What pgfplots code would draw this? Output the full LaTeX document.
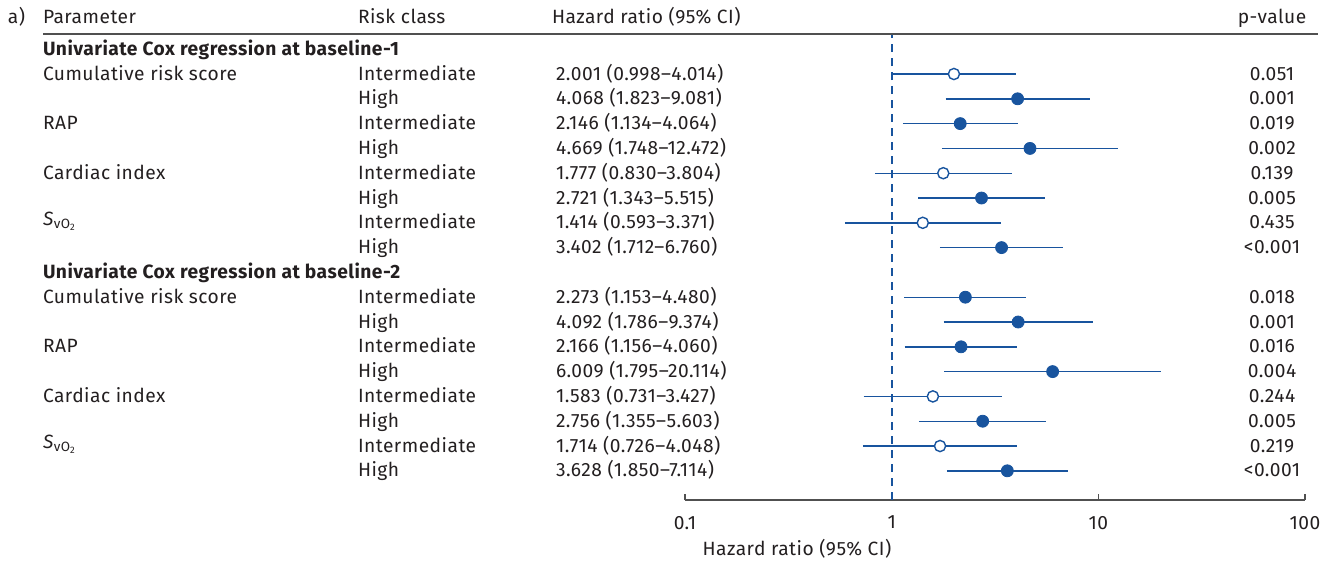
\documentclass[border=0pt]{standalone}
\usepackage{pgfplots}
\pgfplotsset{compat=1.18}
\usepackage{pgfplotstable}
\usepackage{fontspec}
\setmainfont{Fira Sans}[LetterSpace=2.5]
\definecolor{fblue}{RGB}{24,84,158}
\definecolor{txt}{RGB}{35,31,32}
\definecolor{axgray}{RGB}{80,80,80}

% CI segments: x (lo/hi), y = -row pixel
\pgfplotstableread{
x y
0.998 -74.0
4.014 -74.0
nan nan
1.823 -98.8
9.081 -98.8
nan nan
1.134 -123.6
4.064 -123.6
nan nan
1.748 -148.4
12.472 -148.4
nan nan
0.830 -173.2
3.804 -173.2
nan nan
1.343 -198.0
5.515 -198.0
nan nan
0.593 -222.8
3.371 -222.8
nan nan
1.712 -247.6
6.760 -247.6
nan nan
1.153 -297.2
4.480 -297.2
nan nan
1.786 -322.0
9.374 -322.0
nan nan
1.156 -346.8
4.060 -346.8
nan nan
1.795 -371.6
20.114 -371.6
nan nan
0.731 -396.4
3.427 -396.4
nan nan
1.355 -421.2
5.603 -421.2
nan nan
0.726 -446.0
4.048 -446.0
nan nan
1.850 -470.8
7.114 -470.8
}\citable

\pgfplotstableread{
x y
4.068 -98.8
2.146 -123.6
4.669 -148.4
2.721 -198.0
3.402 -247.6
2.273 -297.2
4.092 -322.0
2.166 -346.8
6.009 -371.6
2.756 -421.2
3.628 -470.8
}\filledpts

\pgfplotstableread{
x y
2.001 -74.0
1.777 -173.2
1.414 -222.8
1.583 -396.4
1.714 -446.0
}\openpts

\begin{document}
\begin{tikzpicture}[x=0.5pt,y=-0.5pt,font=\fontsize{9.6}{11.5}\selectfont,color=txt]
\path (0,0) rectangle (1336,564);
\begin{axis}[
  at={(342.5pt,-250pt)}, anchor=south west,
  scale only axis, width=310pt, height=232.5pt,
  xmode=log, xmin=0.1, xmax=100, ymin=-500, ymax=-35,
  axis x line*=bottom, axis y line=none,
  x axis line style={axgray, line width=0.8pt},
  xtick={0.1,1,10,100}, xticklabels={0.1,1,10,100},
  xminorticks=false, xtick align=inside,
  major tick length=3pt,
  tick style={axgray, line width=0.8pt},
  xticklabel style={font=\fontsize{9.6}{11.5}\selectfont, text=txt, yshift=-4.5pt},
  /pgf/number format/assume math mode=true,
  unbounded coords=jump, clip=false,
]
\addplot[draw=fblue, line width=1pt, dash pattern=on 4pt off 3pt] coordinates {(1,-500) (1,-35)};
\addplot[draw=fblue, line width=0.7pt, no marks] table[x=x,y=y] {\citable};
\addplot[only marks, mark=*, mark size=3pt, fblue, mark options={fill=fblue, draw=fblue}] table[x=x,y=y] {\filledpts};
\addplot[only marks, mark=*, mark size=2.8pt, fblue, mark options={fill=white, draw=fblue, line width=0.7pt}] table[x=x,y=y] {\openpts};
\end{axis}

\tikzset{every node/.style={inner sep=0pt, outer sep=0pt, text=txt}}
% header
\node[anchor=base west] at (8,23) {a)};
\node[anchor=base west] at (43,23) {Parameter};
\node[anchor=base west] at (358,23) {Risk class};
\node[anchor=base west] at (552,23) {Hazard ratio (95\% CI)};
\node[anchor=base] at (1272,23) {p-value};
\draw[axgray, line width=0.8pt] (43,34) -- (1318,34);

% block 1
\node[anchor=base west] at (43,55) {\bfseries Univariate Cox regression at baseline-1};
\node[anchor=base west] at (43,80.0) {Cumulative risk score};
\node[anchor=base west] at (43,129.6) {RAP};
\node[anchor=base west] at (43,179.2) {Cardiac index};
\node[anchor=base west] at (43,225.0) {\textit{S}\textsubscript{vO\textsubscript{2}}};

\node[anchor=base west] at (358,80.0) {Intermediate};
\node[anchor=base west] at (358,104.8) {High};
\node[anchor=base west] at (358,129.6) {Intermediate};
\node[anchor=base west] at (358,154.4) {High};
\node[anchor=base west] at (358,179.2) {Intermediate};
\node[anchor=base west] at (358,204.0) {High};
\node[anchor=base west] at (358,228.8) {Intermediate};
\node[anchor=base west] at (358,253.6) {High};

\node[anchor=base west] at (556,80.0) {2.001 (0.998--4.014)};
\node[anchor=base west] at (556,104.8) {4.068 (1.823--9.081)};
\node[anchor=base west] at (556,129.6) {2.146 (1.134--4.064)};
\node[anchor=base west] at (556,154.4) {4.669 (1.748--12.472)};
\node[anchor=base west] at (556,179.2) {1.777 (0.830--3.804)};
\node[anchor=base west] at (556,204.0) {2.721 (1.343--5.515)};
\node[anchor=base west] at (556,228.8) {1.414 (0.593--3.371)};
\node[anchor=base west] at (556,253.6) {3.402 (1.712--6.760)};

\node[anchor=base] at (1272,80.0) {0.051};
\node[anchor=base] at (1272,104.8) {0.001};
\node[anchor=base] at (1272,129.6) {0.019};
\node[anchor=base] at (1272,154.4) {0.002};
\node[anchor=base] at (1272,179.2) {0.139};
\node[anchor=base] at (1272,204.0) {0.005};
\node[anchor=base] at (1272,228.8) {0.435};
\node[anchor=base] at (1272,253.6) {<0.001};

% block 2
\node[anchor=base west] at (43,278.4) {\bfseries Univariate Cox regression at baseline-2};
\node[anchor=base west] at (43,303.2) {Cumulative risk score};
\node[anchor=base west] at (43,352.8) {RAP};
\node[anchor=base west] at (43,402.4) {Cardiac index};
\node[anchor=base west] at (43,448.2) {\textit{S}\textsubscript{vO\textsubscript{2}}};

\node[anchor=base west] at (358,303.2) {Intermediate};
\node[anchor=base west] at (358,328.0) {High};
\node[anchor=base west] at (358,352.8) {Intermediate};
\node[anchor=base west] at (358,377.6) {High};
\node[anchor=base west] at (358,402.4) {Intermediate};
\node[anchor=base west] at (358,427.2) {High};
\node[anchor=base west] at (358,452.0) {Intermediate};
\node[anchor=base west] at (358,476.8) {High};

\node[anchor=base west] at (556,303.2) {2.273 (1.153--4.480)};
\node[anchor=base west] at (556,328.0) {4.092 (1.786--9.374)};
\node[anchor=base west] at (556,352.8) {2.166 (1.156--4.060)};
\node[anchor=base west] at (556,377.6) {6.009 (1.795--20.114)};
\node[anchor=base west] at (556,402.4) {1.583 (0.731--3.427)};
\node[anchor=base west] at (556,427.2) {2.756 (1.355--5.603)};
\node[anchor=base west] at (556,452.0) {1.714 (0.726--4.048)};
\node[anchor=base west] at (556,476.8) {3.628 (1.850--7.114)};

\node[anchor=base] at (1272,303.2) {0.018};
\node[anchor=base] at (1272,328.0) {0.001};
\node[anchor=base] at (1272,352.8) {0.016};
\node[anchor=base] at (1272,377.6) {0.004};
\node[anchor=base] at (1272,402.4) {0.244};
\node[anchor=base] at (1272,427.2) {0.005};
\node[anchor=base] at (1272,452.0) {0.219};
\node[anchor=base] at (1272,476.8) {<0.001};

% axis title
\node[anchor=base] at (797,555) {Hazard ratio (95\% CI)};
\end{tikzpicture}
\end{document}
